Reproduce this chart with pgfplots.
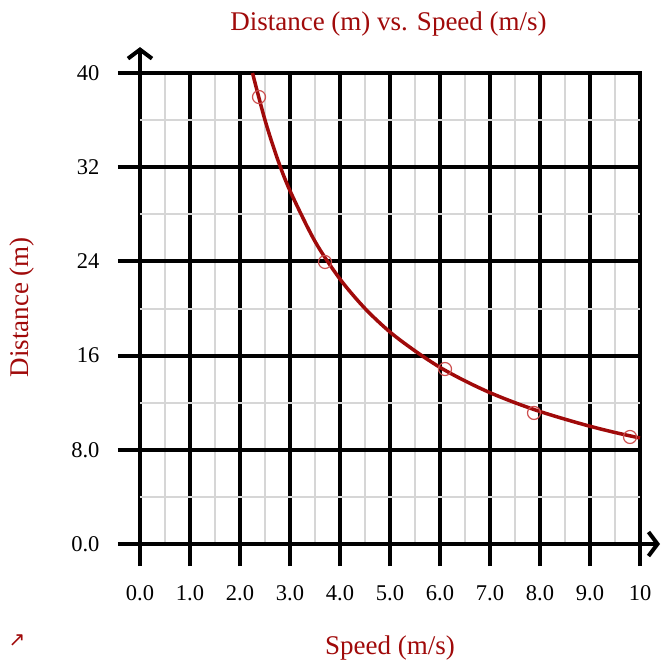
\documentclass[border=0pt]{standalone}
\usepackage{fontspec}
\setmainfont{Liberation Serif}
\newfontfamily\djv{DejaVu Sans}
\usepackage{pgfplots}
\pgfplotsset{compat=1.18}
\usetikzlibrary{arrows.meta}
\definecolor{dred}{RGB}{160,10,10}
\definecolor{mred}{RGB}{205,80,80}
\definecolor{mgray}{RGB}{214,214,214}
\begin{document}
\begin{tikzpicture}
\path[use as bounding box] (-140pt,-118pt) rectangle (521pt,544pt);
\begin{axis}[
  at={(0pt,0pt)}, anchor=south west, scale only axis,
  width=500pt, height=471pt,
  xmin=0, xmax=10, ymin=0, ymax=40, clip=false,
  axis line style={draw=none}, tick style={draw=none},
  xtick={0,1,2,3,4,5,6,7,8,9,10}, ytick={0,8,16,24,32,40},
  minor xtick={0.5,1.5,2.5,3.5,4.5,5.5,6.5,7.5,8.5,9.5},
  minor ytick={4,12,20,28,36},
  grid=both,
  major grid style={black, line width=4pt, line cap=rect},
  minor grid style={mgray, line width=2pt},
  /pgf/number format/assume math mode=true,
  xticklabels={0.0,1.0,2.0,3.0,4.0,5.0,6.0,7.0,8.0,9.0,10},
  yticklabels={0.0,8.0,16,24,32,40},
  xticklabel style={font=\fontsize{22.5}{25}\selectfont, yshift=-38pt},
  yticklabel style={font=\fontsize{22.5}{25}\selectfont, xshift=-37pt},
]
\pgfplotsinvokeforeach{0,8,16,24,32,40}{
  \draw[black, line width=4pt] (axis cs:-0.44,#1) -- (axis cs:0,#1);
}
\pgfplotsinvokeforeach{0,1,2,3,4,5,6,7,8,9,10}{
  \draw[black, line width=4pt] (axis cs:#1,-1.87) -- (axis cs:#1,0);
}
\draw[black, line width=4pt, -{Straight Barb[length=9pt, width=24pt]}] (axis cs:0,40) -- (axis cs:0,42.2);
\draw[black, line width=4pt, -{Straight Barb[length=9pt, width=24pt]}] (axis cs:10,0) -- (axis cs:10.4,0);

\addplot[dred, line width=3.5pt, smooth] coordinates {
(2.25,40) (2.5,36) (2.75,32.7) (3,30) (3.5,25.7) (4,22.5) (4.5,20)
(5,18) (5.5,16.4) (6,15) (6.5,13.85) (7,12.85) (7.5,12) (8,11.25)
(8.5,10.6) (9,10) (9.5,9.47) (10,9.0)
};
\addplot[only marks, mark=o, mark size=6.5pt, mred, line width=1.2pt] coordinates {
(2.38,37.96) (3.70,23.95) (6.10,14.86) (7.88,11.13) (9.8,9.09)
};

\node[dred, font=\fontsize{27}{30}\selectfont] at (axis cs:4.97,44.2) {Distance (m) vs. Speed (m/s)};
\node[dred, font=\fontsize{27}{30}\selectfont] at (axis cs:5.0,-8.8) {Speed (m/s)};
\node[dred, font=\fontsize{27}{30}\selectfont, rotate=90] at (axis cs:-2.36,20.1) {Distance (m)};
\node[dred, font=\djv\fontsize{20}{22}\selectfont] at (axis cs:-2.46,-8.2) {↗};
\end{axis}
\end{tikzpicture}
\end{document}
